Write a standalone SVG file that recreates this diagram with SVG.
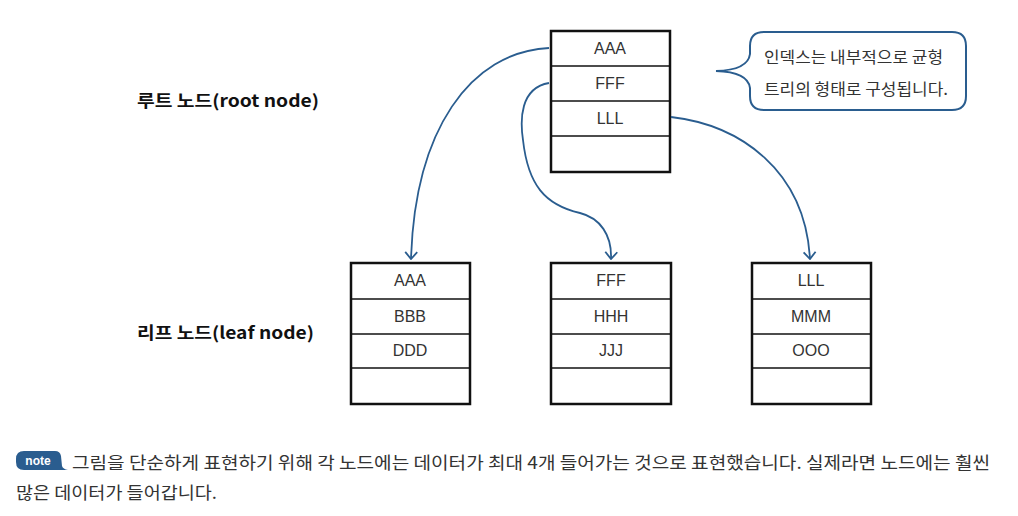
<svg xmlns="http://www.w3.org/2000/svg" width="1018" height="516" viewBox="0 0 1018 516">
<defs>
<style>
.box{fill:#fff;stroke:#111;stroke-width:2.5}
.div{stroke:#111;stroke-width:1.6}
.cell{font-family:"Liberation Sans","Noto Sans CJK KR",sans-serif;font-size:16px;fill:#333;text-anchor:middle}
.lbl{font-family:"Noto Sans CJK KR",sans-serif;font-size:17px;font-weight:bold;fill:#111}
.ko{font-family:"Noto Sans CJK KR",sans-serif;font-size:16px;fill:#333}
.con{fill:none;stroke:#2a5d8f;stroke-width:1.8}
</style>
<marker id="ah" viewBox="0 0 12 14" refX="11" refY="7" markerWidth="12" markerHeight="14" markerUnits="userSpaceOnUse" orient="auto">
<path d="M4,1 L11,7 L4,13" fill="none" stroke="#2a5d8f" stroke-width="1.8"/>
</marker>
</defs>
<rect width="1018" height="516" fill="#fff"/>

<g id="root-label"><text class="lbl" x="137" y="107" textLength="182" lengthAdjust="spacingAndGlyphs">루트 노드(root node)</text></g>
<g id="leaf-label"><text class="lbl" x="137" y="339" textLength="177" lengthAdjust="spacingAndGlyphs">리프 노드(leaf node)</text></g>

<g id="root">
<rect class="box" x="551" y="31" width="119" height="141"/>
<line class="div" x1="551" y1="66" x2="670" y2="66"/>
<line class="div" x1="551" y1="101" x2="670" y2="101"/>
<line class="div" x1="551" y1="136" x2="670" y2="136"/>
<text class="cell" x="610" y="54">AAA</text>
<text class="cell" x="610" y="89">FFF</text>
<text class="cell" x="610" y="124">LLL</text>
</g>

<g id="leaf1">
<rect class="box" x="351" y="263" width="119" height="141"/>
<line class="div" x1="351" y1="299" x2="470" y2="299"/>
<line class="div" x1="351" y1="334" x2="470" y2="334"/>
<line class="div" x1="351" y1="368" x2="470" y2="368"/>
<text class="cell" x="410" y="286">AAA</text>
<text class="cell" x="410" y="322">BBB</text>
<text class="cell" x="410" y="356">DDD</text>
</g>

<g id="leaf2">
<rect class="box" x="551" y="263" width="120" height="141"/>
<line class="div" x1="551" y1="299" x2="671" y2="299"/>
<line class="div" x1="551" y1="334" x2="671" y2="334"/>
<line class="div" x1="551" y1="368" x2="671" y2="368"/>
<text class="cell" x="611" y="286">FFF</text>
<text class="cell" x="611" y="322">HHH</text>
<text class="cell" x="611" y="356">JJJ</text>
</g>

<g id="leaf3">
<rect class="box" x="752" y="263" width="119" height="141"/>
<line class="div" x1="752" y1="299" x2="871" y2="299"/>
<line class="div" x1="752" y1="334" x2="871" y2="334"/>
<line class="div" x1="752" y1="368" x2="871" y2="368"/>
<text class="cell" x="811" y="286">LLL</text>
<text class="cell" x="811" y="322">MMM</text>
<text class="cell" x="811" y="356">OOO</text>
</g>

<g id="connectors">
<path class="con" marker-end="url(#ah)" d="M549 48 C470 52,415 130,411 259"/>
<path class="con" marker-end="url(#ah)" d="M549 83 C520 88,520 120,523 140 C528 185,545 205,580 213 C600 218,612 235,611 259"/>
<path class="con" marker-end="url(#ah)" d="M671 117 C740 125,805 170,810 259"/>
</g>

<g id="callout">
<path d="M764 32 H952 Q966 32 966 46 V96 Q966 110 952 110 H764 Q750 110 750 96 V88 Q748 72 716 71 Q748 70 750 54 V46 Q750 32 764 32 Z" fill="#fff" stroke="#2a5d8f" stroke-width="2"/>
<text class="ko" x="764" y="63" textLength="179" lengthAdjust="spacingAndGlyphs">인덱스는 내부적으로 균형</text>
<text class="ko" x="764" y="95" textLength="184" lengthAdjust="spacingAndGlyphs">트리의 형태로 구성됩니다.</text>
</g>

<g id="note">
<path d="M24 451 H55 Q60 451 61 456 L62 466 Q63 469 68 470 H24 Q16 470 16 462 V459 Q16 451 24 451 Z" fill="#2a5d8f"/>
<text x="38" y="465" font-family="'Liberation Sans',sans-serif" font-size="12" font-weight="bold" fill="#fff" text-anchor="middle">note</text>
<text class="ko" x="72" y="469" style="font-size:17px" textLength="918" lengthAdjust="spacingAndGlyphs">그림을 단순하게 표현하기 위해 각 노드에는 데이터가 최대 4개 들어가는 것으로 표현했습니다. 실제라면 노드에는 훨씬</text>
<text class="ko" x="16" y="499" style="font-size:17px" textLength="201" lengthAdjust="spacingAndGlyphs">많은 데이터가 들어갑니다.</text>
</g>
</svg>
